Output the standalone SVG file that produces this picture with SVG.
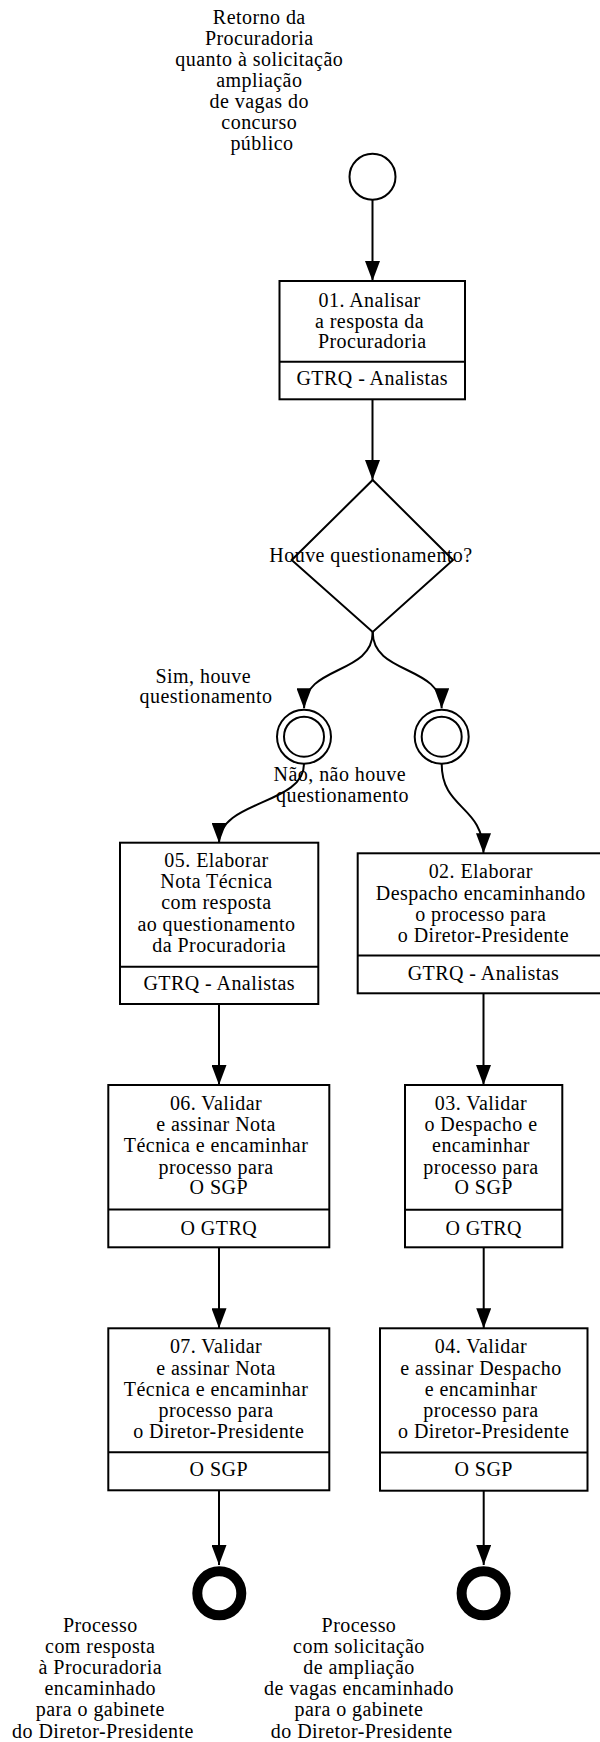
<svg xmlns="http://www.w3.org/2000/svg" width="600" height="1742" viewBox="0 0 600 1742">
<style>
  .t { font-family: "Liberation Serif", "Times New Roman", serif; font-size: 20px; letter-spacing: 0.45px; fill: #000; text-anchor: middle; }
  .box { fill: #fff; stroke: #000; stroke-width: 2; }
  .div { stroke: #000; stroke-width: 2; }
  .conn { fill: none; stroke: #000; stroke-width: 2; marker-end: url(#arr); }
  .ev { fill: #fff; stroke: #000; stroke-width: 2; }
  .end { fill: #fff; stroke: #000; stroke-width: 10; }
</style>
<defs>
  <marker id="arr" markerWidth="20" markerHeight="15" refX="20" refY="7.5" orient="auto" markerUnits="userSpaceOnUse">
    <path d="M0,0 L20,7.5 L0,15 z" fill="#000"/>
  </marker>
</defs>
<rect width="600" height="1742" fill="#fff"/>

<g id="connectors">
  <path class="conn" d="M372.5,200 L372.5,281"/>
  <path class="conn" d="M372.5,399.3 L372.5,480"/>
  <path class="conn" d="M372.7,632 C372.7,675 304,665 304,708.3"/>
  <path class="conn" d="M372.7,632 C372.7,675 441.7,665 441.7,708.3"/>
  <path class="conn" d="M304,764 C304,805 219,800 219,842.7"/>
  <path class="conn" d="M441.7,764 C441.7,810 483.5,805 483.5,853.3"/>
  <path class="conn" d="M219,1004 L219,1085"/>
  <path class="conn" d="M483.5,993.3 L483.5,1085"/>
  <path class="conn" d="M219,1247.3 L219,1328.3"/>
  <path class="conn" d="M483.7,1247.3 L483.7,1328.3"/>
  <path class="conn" d="M219,1490.3 L219,1565"/>
  <path class="conn" d="M483.7,1490.7 L483.7,1565"/>
</g>

<g id="start">
  <circle class="ev" cx="372.5" cy="176.7" r="23"/>
  <text class="t">
    <tspan x="262" y="24">Retorno da</tspan>
    <tspan x="262" y="45">Procuradoria</tspan>
    <tspan x="262" y="66">quanto à solicitação</tspan>
    <tspan x="262" y="87">ampliação</tspan>
    <tspan x="262" y="108">de vagas do</tspan>
    <tspan x="262" y="129">concurso</tspan>
    <tspan x="262" y="150">público</tspan>
  </text>
</g>

<g id="task01">
  <rect class="box" x="279.5" y="281" width="185.5" height="118.3"/>
  <line class="div" x1="279.5" y1="361.7" x2="465" y2="361.7"/>
  <text class="t">
    <tspan x="372.3" y="306.7">01. Analisar</tspan>
    <tspan x="372.3" y="327.5">a resposta da</tspan>
    <tspan x="372.3" y="348.3">Procuradoria</tspan>
  </text>
  <text class="t" x="372.3" y="385">GTRQ - Analistas</text>
</g>

<g id="gateway">
  <polygon class="ev" points="372.7,480 453,560 372.7,632 291.7,560"/>
  <text class="t" x="371" y="561.7">Houve questionamento?</text>
</g>

<g id="evt-sim">
  <circle class="ev" cx="304" cy="736.7" r="27"/>
  <circle class="ev" cx="304" cy="736.7" r="20"/>
  <text class="t">
    <tspan x="206" y="683.3">Sim, houve</tspan>
    <tspan x="206" y="703.3">questionamento</tspan>
  </text>
</g>

<g id="evt-nao">
  <circle class="ev" cx="441.7" cy="736.7" r="27"/>
  <circle class="ev" cx="441.7" cy="736.7" r="20"/>
  <text class="t">
    <tspan x="342.5" y="780.5">Não, não houve</tspan>
    <tspan x="342.5" y="801.7">questionamento</tspan>
  </text>
</g>

<g id="task05">
  <rect class="box" x="120" y="842.7" width="198.3" height="161.3"/>
  <line class="div" x1="120" y1="966.7" x2="318.3" y2="966.7"/>
  <text class="t">
    <tspan x="219.2" y="866.7">05. Elaborar</tspan>
    <tspan x="219.2" y="888">Nota Técnica</tspan>
    <tspan x="219.2" y="909.3">com resposta</tspan>
    <tspan x="219.2" y="930.5">ao questionamento</tspan>
    <tspan x="219.2" y="951.7">da Procuradoria</tspan>
  </text>
  <text class="t" x="219.2" y="990">GTRQ - Analistas</text>
</g>

<g id="task02">
  <rect class="box" x="357.7" y="853.3" width="251.3" height="140"/>
  <line class="div" x1="357.7" y1="955.5" x2="609" y2="955.5"/>
  <text class="t">
    <tspan x="483.5" y="878.3">02. Elaborar</tspan>
    <tspan x="483.5" y="899.6">Despacho encaminhando</tspan>
    <tspan x="483.5" y="920.9">o processo para</tspan>
    <tspan x="483.5" y="942.2">o Diretor-Presidente</tspan>
  </text>
  <text class="t" x="483.5" y="980">GTRQ - Analistas</text>
</g>

<g id="task06">
  <rect class="box" x="108.3" y="1085" width="221" height="162.3"/>
  <line class="div" x1="108.3" y1="1209.5" x2="329.3" y2="1209.5"/>
  <text class="t">
    <tspan x="218.8" y="1110">06. Validar</tspan>
    <tspan x="218.8" y="1131.2">e assinar Nota</tspan>
    <tspan x="218.8" y="1152.4">Técnica e encaminhar</tspan>
    <tspan x="218.8" y="1173.6">processo para</tspan>
    <tspan x="218.8" y="1194.4">O SGP</tspan>
  </text>
  <text class="t" x="218.8" y="1235">O GTRQ</text>
</g>

<g id="task03">
  <rect class="box" x="405" y="1085" width="157.3" height="162.3"/>
  <line class="div" x1="405" y1="1209.8" x2="562.3" y2="1209.8"/>
  <text class="t">
    <tspan x="483.7" y="1110">03. Validar</tspan>
    <tspan x="483.7" y="1131.2">o Despacho e</tspan>
    <tspan x="483.7" y="1152.4">encaminhar</tspan>
    <tspan x="483.7" y="1173.6">processo para</tspan>
    <tspan x="483.7" y="1194.4">O SGP</tspan>
  </text>
  <text class="t" x="483.7" y="1235">O GTRQ</text>
</g>

<g id="task07">
  <rect class="box" x="108.3" y="1328.3" width="221" height="162"/>
  <line class="div" x1="108.3" y1="1452.3" x2="329.3" y2="1452.3"/>
  <text class="t">
    <tspan x="218.8" y="1353.3">07. Validar</tspan>
    <tspan x="218.8" y="1374.5">e assinar Nota</tspan>
    <tspan x="218.8" y="1395.7">Técnica e encaminhar</tspan>
    <tspan x="218.8" y="1416.9">processo para</tspan>
    <tspan x="218.8" y="1438.1">o Diretor-Presidente</tspan>
  </text>
  <text class="t" x="218.8" y="1476">O SGP</text>
</g>

<g id="task04">
  <rect class="box" x="380" y="1328.3" width="207.5" height="162.4"/>
  <line class="div" x1="380" y1="1452.5" x2="587.5" y2="1452.5"/>
  <text class="t">
    <tspan x="483.7" y="1353.3">04. Validar</tspan>
    <tspan x="483.7" y="1374.5">e assinar Despacho</tspan>
    <tspan x="483.7" y="1395.7">e encaminhar</tspan>
    <tspan x="483.7" y="1416.9">processo para</tspan>
    <tspan x="483.7" y="1438.1">o Diretor-Presidente</tspan>
  </text>
  <text class="t" x="483.7" y="1476">O SGP</text>
</g>

<g id="end-left">
  <circle class="end" cx="219.3" cy="1593.3" r="22"/>
  <text class="t">
    <tspan x="103" y="1632">Processo</tspan>
    <tspan x="103" y="1653.1">com resposta</tspan>
    <tspan x="103" y="1674.2">à Procuradoria</tspan>
    <tspan x="103" y="1695.3">encaminhado</tspan>
    <tspan x="103" y="1716.4">para o gabinete</tspan>
    <tspan x="103" y="1737.5">do Diretor-Presidente</tspan>
  </text>
</g>

<g id="end-right">
  <circle class="end" cx="483.6" cy="1593.3" r="22"/>
  <text class="t">
    <tspan x="361.7" y="1632">Processo</tspan>
    <tspan x="361.7" y="1653.1">com solicitação</tspan>
    <tspan x="361.7" y="1674.2">de ampliação</tspan>
    <tspan x="361.7" y="1695.3">de vagas encaminhado</tspan>
    <tspan x="361.7" y="1716.4">para o gabinete</tspan>
    <tspan x="361.7" y="1737.5">do Diretor-Presidente</tspan>
  </text>
</g>
</svg>
